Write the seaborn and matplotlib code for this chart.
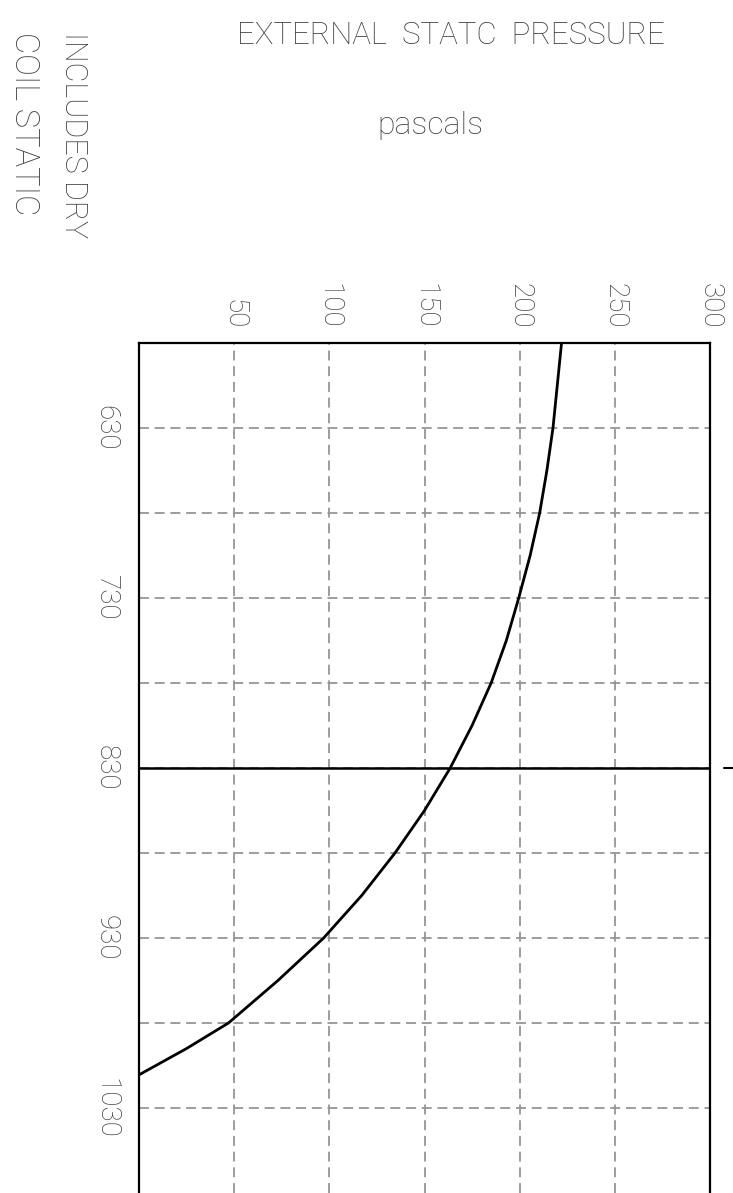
import matplotlib
matplotlib.use("Agg")
import matplotlib.pyplot as plt
import seaborn as sns
import pandas as pd

# ---- Data ----
airflow = [580, 630, 655, 680, 705, 730, 755, 780, 805, 830, 855, 880,
           905, 930, 955, 980, 995, 1010.5]
pressure = [222, 217.5, 214.3, 210.5, 205.5, 199.5, 193, 185, 175, 163.5,
            150, 134.5, 117, 97, 73, 47, 25, 0]
pressure_ticks = [50, 100, 150, 200, 250, 300]
airflow_ticks = [630, 680, 730, 780, 830, 880, 930, 980, 1030]
airflow_labels = ["630", "", "730", "", "830", "", "930", "", "1030"]
design_airflow = 830

curve_df = pd.DataFrame({"pressure": pressure, "airflow": airflow})

sns.set_style("white")
font = ["Roboto", "DejaVu Sans"]
plt.rcParams["font.family"] = font
txt = "#3f3f3f"

fig = plt.figure(figsize=(7.33, 11.93), dpi=100)
ax = fig.add_axes([139 / 733, 0.0, 571 / 733, 1 - 343 / 1193])

sns.lineplot(data=curve_df, x="pressure", y="airflow", sort=False,
             color="black", linewidth=2.0, ax=ax, zorder=4)

ax.set_xlim(0, 300)
ax.set_ylim(1080, 580)

# grid
ax.set_xticks(pressure_ticks)
ax.set_yticks(airflow_ticks)
ax.grid(True, color="#959595", linewidth=1.3, linestyle=(0, (5.5, 3.2)))
ax.axhline(design_airflow, color="black", linewidth=1.8, zorder=3)
ax.plot([1.025, 1.04], [design_airflow, design_airflow], color="black",
        linewidth=1.5, transform=ax.get_yaxis_transform(), clip_on=False)

# ticks / labels
ax.xaxis.tick_top()
ax.set_xticklabels([str(v) for v in pressure_ticks], rotation=270,
                   ha="center", va="bottom", fontsize=20, color=txt,
                   fontweight="light")
ax.set_yticklabels(airflow_labels, rotation=270, ha="right", va="center",
                   fontsize=20, color=txt, fontweight="light")
ax.tick_params(axis="x", length=0, pad=10)
ax.tick_params(axis="y", length=0, pad=14)
ax.set_xlabel("")
ax.set_ylabel("")

for side in ["left", "top", "right"]:
    ax.spines[side].set_color("black")
    ax.spines[side].set_linewidth(1.6)
ax.spines["bottom"].set_visible(False)

# titles
fig.text(451 / 733, 1 - 36 / 1193, "EXTERNAL  STATC  PRESSURE", ha="center",
         va="center", fontsize=22.5, color=txt, fontweight="light")
fig.text(430 / 733, 1 - 125 / 1193, "pascals", ha="center", va="center",
         fontsize=23, color=txt, fontweight="light")
fig.text(73 / 733, 1 - 32 / 1193, "INCLUDES DRY", rotation=270, ha="center",
         va="top", fontsize=22, color=txt, fontweight="light")
fig.text(24 / 733, 1 - 32 / 1193, "COIL STATIC", rotation=270, ha="center",
         va="top", fontsize=23.5, color=txt, fontweight="light")

fig.savefig("out.png", dpi=100)
